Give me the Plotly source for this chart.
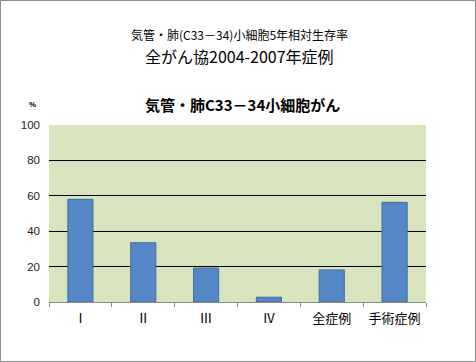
import plotly.graph_objects as go

categories = ["Ⅰ", "Ⅱ", "Ⅲ", "Ⅳ", "全症例", "手術症例"]
survival = [58.0, 33.5, 19.2, 2.7, 18.1, 56.3]
y_ticks = [0, 20, 40, 60, 80, 100]

W, H = 476, 362
L, R, T, B = 49, 50, 125, 60
pw, ph = W - L - R, H - T - B

def px(x):
    return (x - L) / pw

def py(y):
    return (H - B - y) / ph

fig = go.Figure()
fig.add_trace(go.Bar(
    x=categories, y=survival,
    marker=dict(color="#5586C6", line=dict(color="#3F6E9F", width=1)),
    width=0.4,
))

jp = "Noto Sans CJK JP"

def note(text, x, y, size, family=jp):
    return dict(text=text, x=px(x), y=py(y), xref="paper", yref="paper",
                xanchor="center", yanchor="middle", showarrow=False,
                font=dict(size=size, family=family, color="black"))

fig.update_layout(
    width=W, height=H,
    margin=dict(l=L, r=R, t=T, b=B),
    paper_bgcolor="white",
    plot_bgcolor="#D7E4BD",
    showlegend=False,
    font=dict(family=jp, color="black"),
    xaxis=dict(
        type="category",
        showgrid=False,
        showline=True, linecolor="#8C8C8C", linewidth=1,
        ticks="outside", tickson="boundaries", ticklen=4, tickcolor="#8C8C8C",
        tickfont=dict(size=13, family=jp, color="black"),
        ticklabelstandoff=4,
        fixedrange=True,
    ),
    yaxis=dict(
        range=[0, 100],
        tickvals=y_ticks,
        showgrid=True, gridcolor="black", gridwidth=1,
        zeroline=False,
        showline=False,
        ticks="", ticklen=0,
        tickfont=dict(size=11.5, family="Liberation Sans", color="#222"),
        ticklabelstandoff=8,
        fixedrange=True,
    ),
    annotations=[
        note("気管・肺(C33－34)小細胞5年相対生存率", 240, 34.5, 12),
        note("全がん協2004-2007年症例", 240, 55.5, 16),
        note("<b>気管・肺C33－34小細胞がん</b>", 242, 104, 15),
        note("<b>%</b>", 32, 105, 8, "Liberation Sans"),
    ],
    shapes=[
        dict(type="rect", xref="paper", yref="paper",
             x0=px(0.5), x1=px(475.5), y0=py(0.5), y1=py(361.5),
             line=dict(color="#8C8C8C", width=1), layer="below"),
    ],
)

fig.write_html("out.html", config={"displayModeBar": False},
               post_script="document.body.style.margin='0';document.body.style.overflow='hidden';")
